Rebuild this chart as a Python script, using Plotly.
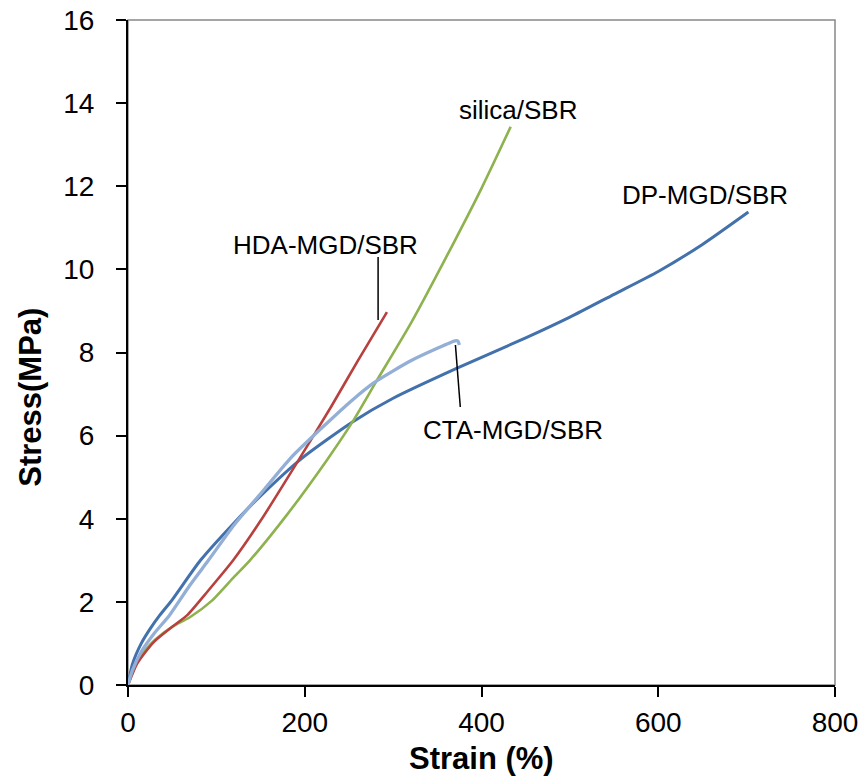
import plotly.graph_objects as go

# ---- data (strain %, stress MPa) ----
dp_strain = [0, 5, 15, 25, 36, 50, 82, 120, 150, 197, 254, 300, 373, 450, 500, 550, 600, 650, 702]
dp_stress = [0, 0.5, 1.0, 1.35, 1.68, 2.05, 3.0, 3.9, 4.55, 5.46, 6.33, 6.9, 7.63, 8.35, 8.85, 9.4, 9.95, 10.6, 11.38]

cta_strain = [0, 5, 15, 30, 47, 70, 91, 120, 150, 184, 220, 254, 278, 320, 350, 370, 373, 375]
cta_stress = [0, 0.35, 0.8, 1.25, 1.68, 2.4, 3.0, 3.85, 4.6, 5.46, 6.2, 6.86, 7.27, 7.8, 8.1, 8.28, 8.28, 8.18]

hda_strain = [0, 10, 20, 30, 50, 67, 90, 119, 150, 193, 230, 260, 293]
hda_stress = [0, 0.5, 0.8, 1.05, 1.4, 1.68, 2.25, 3.0, 3.95, 5.41, 6.7, 7.8, 8.97]

silica_strain = [0, 10, 20, 30, 50, 70, 95, 120, 138, 180, 225, 254, 280, 320, 370, 400, 433]
silica_stress = [0, 0.55, 0.85, 1.08, 1.4, 1.63, 2.03, 2.6, 3.0, 4.1, 5.41, 6.33, 7.27, 8.7, 10.7, 11.95, 13.43]

x_ticks = [0, 200, 400, 600, 800]
y_ticks = [0, 2, 4, 6, 8, 10, 12, 14, 16]

labels = ["silica/SBR", "DP-MGD/SBR", "HDA-MGD/SBR", "CTA-MGD/SBR"]
label_x = [441, 653, 224, 436]
label_y = [13.84, 11.79, 10.59, 6.14]

# leader lines (x0, y0, x1, y1) in data units
leaders = [(283, 10.3, 283, 8.78), (370.5, 8.18, 376, 6.69)]

FONT = "Arial, Liberation Sans, sans-serif"

fig = go.Figure()
series = [
    (dp_strain, dp_stress, "#4271AC", 3),
    (silica_strain, silica_stress, "#8DB24E", 2.6),
    (hda_strain, hda_stress, "#B7413E", 2.6),
    (cta_strain, cta_stress, "#93AFD6", 3.3),
]
for xs, ys, col, w in series:
    fig.add_trace(go.Scatter(x=xs, y=ys, mode="lines",
                             line=dict(color=col, width=w, shape="spline", smoothing=0.6),
                             showlegend=False, hoverinfo="skip"))

for t, x, y in zip(labels, label_x, label_y):
    fig.add_annotation(x=x, y=y, text=t, showarrow=False, xanchor="center", yanchor="middle",
                       font=dict(family=FONT, size=26, color="black"))

for x0, y0, x1, y1 in leaders:
    fig.add_shape(type="line", x0=x0, y0=y0, x1=x1, y1=y1,
                  line=dict(color="black", width=1.5))

# gray frame
fig.add_shape(type="rect", xref="paper", yref="paper", x0=0, y0=0, x1=1, y1=1,
              line=dict(color="#888888", width=1.5), layer="below")

fig.add_annotation(xref="paper", yref="paper", x=0.5, y=-0.11, text="<b>Strain (%)</b>",
                   xanchor="center", yanchor="middle",
                   showarrow=False, font=dict(family=FONT, size=31, color="black"))
fig.add_annotation(xref="paper", yref="paper", x=-0.139, y=0.433, text="<b>Stress(MPa)</b>",
                   xanchor="center", yanchor="middle",
                   textangle=-90, showarrow=False, font=dict(family=FONT, size=31, color="black"))

fig.update_xaxes(range=[0, 800], tickvals=x_ticks, ticks="outside", ticklen=10, tickwidth=2,
                 tickcolor="black", showline=True, linecolor="black", linewidth=2,
                 showgrid=False, zeroline=False, ticklabelstandoff=1, automargin=False,
                 tickfont=dict(family=FONT, size=28, color="black"))
fig.update_yaxes(range=[0, 16], tickvals=y_ticks, ticks="outside", ticklen=10, tickwidth=2,
                 tickcolor="black", showline=True, linecolor="black", linewidth=2,
                 showgrid=False, zeroline=False, ticklabelstandoff=16, automargin=False,
                 tickfont=dict(family=FONT, size=28, color="black"))

fig.update_layout(width=864, height=781, margin=dict(l=128, r=29, t=20, b=96, autoexpand=False),
                  plot_bgcolor="white", paper_bgcolor="white")

fig.write_html("out.html")
